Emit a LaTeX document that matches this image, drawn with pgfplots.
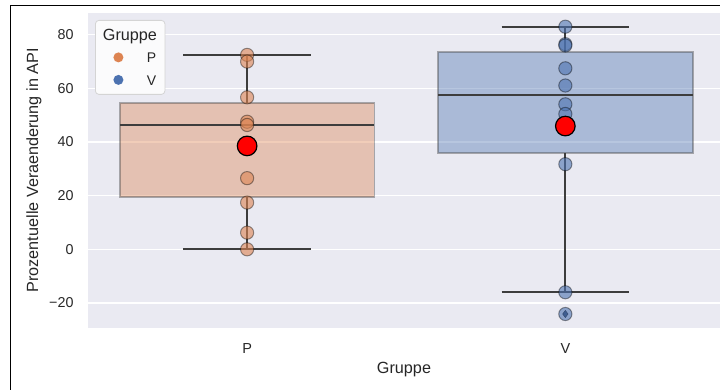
\documentclass[border=0pt]{standalone}
\usepackage{fontspec}
\setmainfont{Liberation Sans}
\usepackage{pgfplots}
\pgfplotsset{compat=1.18}
\definecolor{bg}{HTML}{EAEAF2}
\definecolor{sbo}{HTML}{DD8452}
\definecolor{sbb}{HTML}{4C72B0}
\definecolor{dgr}{HTML}{3D3D3D}
\definecolor{txt}{HTML}{262626}
\definecolor{legfill}{RGB}{251,251,252}
\begin{document}
\begin{tikzpicture}[font=\fontsize{14}{16}\selectfont, text=txt]
\path[use as bounding box] (0,0) rectangle (720pt,390pt);
\draw[black, line width=1.2pt] (10.7pt,0) -- (10.7pt,384.2pt) -- (720pt,384.2pt);
\begin{axis}[
  at={(88pt,62.3pt)}, anchor=south west,
  scale only axis, width=632pt, height=314.7pt,
  xmin=-0.5, xmax=1.486, ymin=-29.2, ymax=88,
  axis background/.style={fill=bg},
  axis line style={draw=none},
  tick style={draw=none},
  ytick={-20,0,20,40,60,80},
  yticklabels={−20,0,20,40,60,80},
  xtick={0,1}, xticklabels={P,V},
  ymajorgrids, grid style={white, line width=1.3pt},
  /pgf/number format/assume math mode=true,
  yticklabel style={anchor=east, inner sep=0pt, xshift=-14.3pt, font=\fontsize{14.3}{16}\selectfont},
  xticklabel style={anchor=base, inner sep=0pt, yshift=-26.3pt, font=\fontsize{14.5}{16}\selectfont},
  ylabel={Prozentuelle Veraenderung in API},
  xlabel={Gruppe},
  every axis y label/.style={at={(axis description cs:0,0.5)}, xshift=-54pt, rotate=90, anchor=center, inner sep=0pt, font=\fontsize{16.2}{18}\selectfont},
  every axis x label/.style={at={(axis description cs:0.5,0)}, yshift=-45.5pt, anchor=base, inner sep=0pt, font=\fontsize{16.2}{18}\selectfont},
  legend cell align=left,
  legend style={at={(0.0111,0.9778)}, anchor=north west,
    draw=black!17, fill=legfill, rounded corners=3.5pt, line width=0.8pt,
    inner xsep=6pt, inner ysep=8pt, column sep=0pt, row sep=9.5pt,
    nodes={inner sep=0pt, text height=12pt, text depth=1pt},
    font=\fontsize{14}{16}\selectfont},
]
% ---- box P
\addplot[forget plot, fill=sbo, fill opacity=0.4, draw=dgr, draw opacity=0.4, line width=1.8pt]
  coordinates {(-0.4,19.6) (0.4,19.6) (0.4,54.4) (-0.4,54.4)} -- cycle;
\addplot[forget plot, dgr, line width=1.8pt] coordinates {(0,0) (0,19.6)};
\addplot[forget plot, dgr, line width=1.8pt] coordinates {(0,54.4) (0,72.4)};
\addplot[forget plot, dgr, line width=1.8pt] coordinates {(-0.2,0) (0.2,0)};
\addplot[forget plot, dgr, line width=1.8pt] coordinates {(-0.2,72.4) (0.2,72.4)};
\addplot[forget plot, dgr, line width=1.8pt] coordinates {(-0.4,46.3) (0.4,46.3)};
% ---- box V
\addplot[forget plot, fill=sbb, fill opacity=0.4, draw=dgr, draw opacity=0.4, line width=1.8pt]
  coordinates {(0.6,36.0) (1.4,36.0) (1.4,73.6) (0.6,73.6)} -- cycle;
\addplot[forget plot, dgr, line width=1.8pt] coordinates {(1,-16.0) (1,36.0)};
\addplot[forget plot, dgr, line width=1.8pt] coordinates {(1,73.6) (1,82.9)};
\addplot[forget plot, dgr, line width=1.8pt] coordinates {(0.8,-16.0) (1.2,-16.0)};
\addplot[forget plot, dgr, line width=1.8pt] coordinates {(0.8,82.9) (1.2,82.9)};
\addplot[forget plot, dgr, line width=1.8pt] coordinates {(0.6,57.5) (1.4,57.5)};
% outlier (flier)
\addplot[only marks, forget plot, mark=diamond*, mark size=3.6pt,
  mark options={fill=sbb!55!black, draw=none}]
  coordinates {(1,-24.1)};
% individual points
\addplot[only marks, forget plot, mark=*, mark size=6.6pt,
  mark options={fill=sbo, fill opacity=0.6, draw=black, draw opacity=0.4, line width=1pt}]
  coordinates {(0,72.4) (0,69.9) (0,56.6) (0,47.5) (0,46.3) (0,26.5) (0,17.4) (0,6.2) (0,0)};
\addplot[only marks, forget plot, mark=*, mark size=6.6pt,
  mark options={fill=sbb, fill opacity=0.6, draw=black, draw opacity=0.4, line width=1pt}]
  coordinates {(1,82.9) (1,76.4) (1,75.9) (1,67.4) (1,61.0) (1,54.0) (1,50.4) (1,31.7) (1,-16.0) (1,-24.1)};
% means
\addplot[only marks, forget plot, mark=*, mark size=9.8pt,
  mark options={fill=red, draw=black, line width=1.2pt}]
  coordinates {(0,38.5) (1,45.9)};
% legend
\addlegendimage{legend image code/.code={\path[draw=none] (0pt,0pt) -- (45.5pt,0pt);}}
\addlegendentry{\makebox[0pt][l]{\hspace{-44.5pt}\fontsize{16.2}{18}\selectfont Gruppe}}
\addlegendimage{legend image code/.code={\path[draw=none] (0pt,0pt) -- (45.5pt,0pt); \fill[sbo, draw=none] (17pt,0pt) circle (5pt);}}
\addlegendentry{\makebox[12pt][l]{P}}
\addlegendimage{legend image code/.code={\path[draw=none] (0pt,0pt) -- (45.5pt,0pt); \fill[sbb, draw=none] (17pt,0pt) circle (5pt);}}
\addlegendentry{\makebox[12pt][l]{V}}
\end{axis}
\end{tikzpicture}
\end{document}
